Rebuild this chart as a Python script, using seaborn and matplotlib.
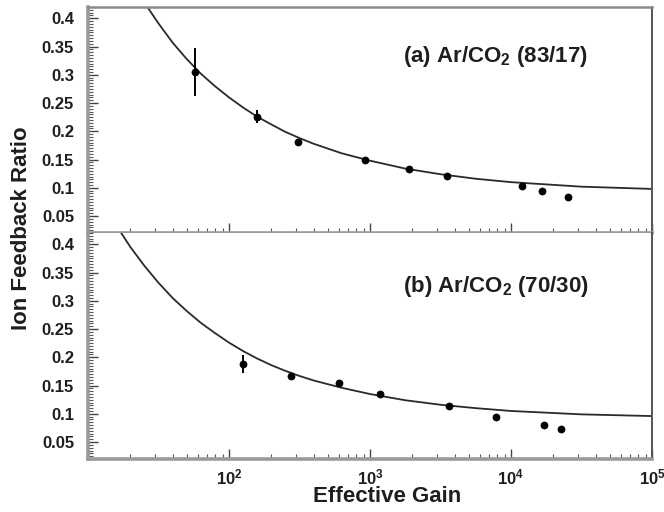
import matplotlib
matplotlib.use("Agg")
import matplotlib.pyplot as plt
from matplotlib.ticker import FixedLocator, LogLocator, MultipleLocator, FuncFormatter, NullFormatter
import numpy as np
import pandas as pd
import seaborn as sns

# Measured ion feedback ratio vs. effective gain, Ar/CO2 (83/17)
gain_a = [57, 158, 308, 922, 1890, 3520, 11970, 16600, 25350]
ratio_a = [0.305, 0.226, 0.181, 0.149, 0.133, 0.121, 0.103, 0.095, 0.084]
err_a = [0.043, 0.011, 0.005, 0.003, 0.003, 0.003, 0.003, 0.003, 0.003]

# Fitted curve for Ar/CO2 (83/17)
fit_gain_a = [26.7, 31.6, 39.8, 50.1, 63.1, 79.4, 100, 126, 158, 200, 251, 316, 398,
              631, 1000, 1778, 3162, 5623, 10000, 31623, 100000]
fit_ratio_a = [0.418, 0.391, 0.357, 0.328, 0.302, 0.280, 0.260, 0.242, 0.226, 0.212,
               0.199, 0.188, 0.178, 0.161, 0.148, 0.134, 0.124, 0.116, 0.110, 0.102, 0.098]

# Measured ion feedback ratio vs. effective gain, Ar/CO2 (70/30)
gain_b = [126, 274, 606, 1178, 3650, 7780, 17140, 22650]
ratio_b = [0.188, 0.167, 0.155, 0.135, 0.113, 0.094, 0.080, 0.073]
err_b = [0.016, 0.006, 0.004, 0.003, 0.003, 0.003, 0.003, 0.003]

# Fitted curve for Ar/CO2 (70/30)
fit_gain_b = [17.2, 20, 25.1, 31.6, 39.8, 50.1, 63.1, 79.4, 100, 126, 158, 200, 251, 316,
              398, 631, 1000, 1778, 3162, 5623, 10000, 31623, 100000]
fit_ratio_b = [0.420, 0.395, 0.362, 0.332, 0.305, 0.282, 0.261, 0.243, 0.226, 0.211,
               0.198, 0.186, 0.176, 0.167, 0.159, 0.146, 0.135, 0.124, 0.116, 0.110,
               0.105, 0.099, 0.096]

panel_labels = [r"(a) Ar/CO$_\mathbf{2}$ (83/17)", r"(b) Ar/CO$_\mathbf{2}$ (70/30)"]
y_ticks = [0.05, 0.1, 0.15, 0.2, 0.25, 0.3, 0.35, 0.4]
x_ticks = [1e1, 1e2, 1e3, 1e4, 1e5]
x_labels = ["", r"$\mathbf{10^{2}}$", r"$\mathbf{10^{3}}$", r"$\mathbf{10^{4}}$", r"$\mathbf{10^{5}}$"]

sns.set_theme(style="ticks")
plt.rcParams["font.family"] = ["Liberation Sans", "DejaVu Sans"]
plt.rcParams["font.weight"] = "bold"
plt.rcParams["mathtext.fontset"] = "custom"
plt.rcParams["mathtext.rm"] = "Liberation Sans:bold"
plt.rcParams["mathtext.bf"] = "Liberation Sans:bold"
plt.rcParams["mathtext.it"] = "Liberation Sans:bold:italic"

fig = plt.figure(figsize=(6.64, 5.12), dpi=100)
ax_a = fig.add_axes([88 / 664, 1 - 233 / 512, 564 / 664, 226 / 512])
ax_b = fig.add_axes([88 / 664, 1 - 459 / 512, 564 / 664, 226 / 512])

text_col = "#1e1e1e"


def draw_panel(ax, gain, ratio, err, fit_gain, fit_ratio, label, label_y, show_xlabels):
    ax.set_xscale("log")
    fit_df = pd.DataFrame({"gain": fit_gain, "ratio": fit_ratio})
    sns.lineplot(data=fit_df, x="gain", y="ratio", ax=ax, color="#2a2a2a",
                 linewidth=1.3, estimator=None, sort=False, zorder=2)
    ax.errorbar(gain, ratio, yerr=err, fmt="none", ecolor="black",
                elinewidth=1.4, capsize=0, zorder=3)
    pts = pd.DataFrame({"gain": gain, "ratio": ratio})
    sns.scatterplot(data=pts, x="gain", y="ratio", ax=ax, color="black",
                    edgecolor="black", s=26, linewidth=0.5, zorder=4)

    ax.set_xlim(10, 1e5)
    ax.set_ylim(0.02, 0.42)
    ax.set_xlabel("")
    ax.set_ylabel("")

    ax.yaxis.set_major_locator(FixedLocator(y_ticks))
    ax.yaxis.set_minor_locator(MultipleLocator(0.005))
    ax.yaxis.set_major_formatter(FuncFormatter(lambda v, p: f"{v:g}"))
    ax.xaxis.set_major_locator(FixedLocator(x_ticks))
    ax.xaxis.set_minor_locator(LogLocator(base=10, subs=np.arange(2, 10)))
    ax.xaxis.set_minor_formatter(NullFormatter())
    if show_xlabels:
        ax.set_xticklabels(x_labels)
    else:
        ax.set_xticklabels([""] * len(x_ticks))

    ax.tick_params(axis="both", which="major", direction="in", length=7, width=1.0,
                   color="#444444", labelsize=12, labelcolor=text_col)
    ax.tick_params(axis="both", which="minor", direction="in", length=3.5, width=0.8,
                   color="#555555")
    ax.tick_params(axis="y", which="major", pad=10)
    ax.tick_params(axis="x", which="major", pad=6)
    ax.tick_params(top=False, right=False, which="both")

    for side in ("left", "bottom"):
        ax.spines[side].set_color("#9a9a9a")
        ax.spines[side].set_linewidth(2.6)
    ax.spines["top"].set_color("#8a8a8a")
    ax.spines["top"].set_linewidth(1.8)
    ax.spines["right"].set_color("#555555")
    ax.spines["right"].set_linewidth(1.4)

    ax.text(0.723, label_y, label, transform=ax.transAxes, ha="center", va="baseline",
            fontsize=16, fontweight="bold", color=text_col)


draw_panel(ax_a, gain_a, ratio_a, err_a, fit_gain_a, fit_ratio_a, panel_labels[0], 0.757, False)
draw_panel(ax_b, gain_b, ratio_b, err_b, fit_gain_b, fit_ratio_b, panel_labels[1], 0.740, True)
ax_b.spines["top"].set_visible(False)

fig.text(22 / 664, 1 - 228 / 512, "Ion Feedback Ratio", rotation=90, ha="center", va="center",
         fontsize=16, fontweight="bold", color=text_col)
fig.text(387 / 664, 1 - 497 / 512, "Effective Gain", ha="center", va="center",
         fontsize=16, fontweight="bold", color=text_col)

fig.savefig("out.png", dpi=100, facecolor="white")
